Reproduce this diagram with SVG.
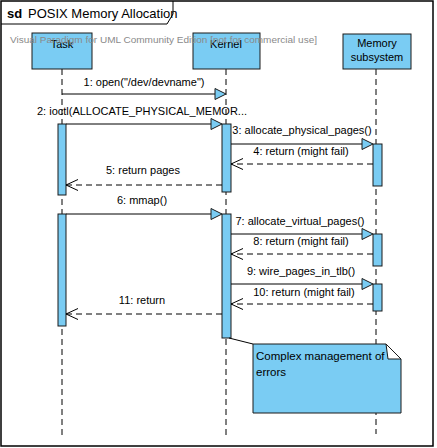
<svg xmlns="http://www.w3.org/2000/svg" width="437" height="448" viewBox="0 0 437 448">
<style>
text{font-family:"Liberation Sans",Arial,sans-serif;fill:#000}
.lbl{font-size:11px;text-anchor:middle}
.head{fill:#7ACCF3;stroke:#1a1a1a;stroke-width:1}
.act{fill:#7ACCF3;stroke:#1a1a1a;stroke-width:1}
.life{stroke:#000;stroke-width:1;stroke-dasharray:6 4;fill:none}
.msg{stroke:#000;stroke-width:1;fill:none}
.ret{stroke:#000;stroke-width:1;stroke-dasharray:6 4;fill:none}
.tri{fill:#7ACCF3;stroke:#1a1a1a;stroke-width:1}
.open{stroke:#000;stroke-width:1;fill:none}
</style>
<rect x="0" y="0" width="437" height="448" fill="#fff"/>
<g id="frame">
<rect x="1" y="1" width="432" height="445" fill="none" stroke="#000" stroke-width="1.5"/>
<path d="M1 24 H167 L173 14 V1" fill="none" stroke="#000" stroke-width="1"/>
<text x="7" y="18" style="font-size:13px;font-weight:bold">sd</text>
<text x="28" y="18" style="font-size:13px">POSIX Memory Allocation</text>
</g>
<g id="lifelines">
<line class="life" x1="62" y1="69" x2="62" y2="437"/>
<line class="life" x1="226" y1="69" x2="226" y2="437"/>
<line class="life" x1="376" y1="69" x2="376" y2="434"/>
</g>
<g id="task">
<rect class="head" x="32" y="33" width="60" height="36"/>
<text class="lbl" x="62" y="48">Task</text>
<rect class="act" x="58" y="124" width="8" height="71"/>
<rect class="act" x="58" y="214" width="8" height="112"/>
</g>
<g id="kernel">
<rect class="head" x="193" y="33" width="67" height="36"/>
<text class="lbl" x="226" y="48">Kernel</text>
<rect class="act" x="222" y="124" width="9" height="68"/>
<rect class="act" x="222" y="214" width="9" height="124"/>
</g>
<g id="memory">
<rect class="head" x="343" y="34" width="68" height="35"/>
<text class="lbl" x="377" y="47">Memory</text>
<text class="lbl" x="377" y="61">subsystem</text>
<rect class="act" x="373" y="144" width="9" height="42"/>
<rect class="act" x="373" y="234" width="9" height="32"/>
<rect class="act" x="373" y="284" width="9" height="27"/>
</g>
<text x="10" y="43" style="font-size:9.5px;fill:#8a8a8a" textLength="307" lengthAdjust="spacingAndGlyphs">Visual Paradigm for UML Community Edition [not for commercial use]</text>
<g id="note">
<line class="msg" x1="229" y1="338" x2="253" y2="344"/>
<path d="M253 344 H386 L401 359 V413 H253 Z" fill="#7ACCF3" stroke="#1a1a1a" stroke-width="1"/>
<path d="M386 344 L388 359 H401 Z" fill="#fff" stroke="#1a1a1a" stroke-width="1"/>
<text x="256" y="360" style="font-size:11.5px">Complex management of</text>
<text x="256" y="376" style="font-size:11.5px">errors</text>
</g>
<g id="connectors">
<line class="msg" x1="62" y1="94" x2="216" y2="94"/>
<path class="tri" d="M215 88.5 L226 94 L215 99.5 Z"/>
<text class="lbl" x="144" y="86">1: open("/dev/devname")</text>

<line class="msg" x1="66" y1="124" x2="212" y2="124"/>
<path class="tri" d="M211 118.5 L222 124 L211 129.5 Z"/>
<text class="lbl" x="142" y="115">2: ioctl(ALLOCATE_PHYSICAL_MEMOR...</text>

<line class="msg" x1="231" y1="144" x2="363" y2="144"/>
<path class="tri" d="M362 138.5 L373 144 L362 149.5 Z"/>
<text class="lbl" x="302" y="134">3: allocate_physical_pages()</text>

<line class="ret" x1="373" y1="164" x2="231" y2="164"/>
<path class="open" d="M243 158.5 L231 164 L243 169.5"/>
<text class="lbl" x="301" y="155">4: return (might fail)</text>

<line class="ret" x1="222" y1="185" x2="66" y2="185"/>
<path class="open" d="M78 179.5 L66 185 L78 190.5"/>
<text class="lbl" x="143" y="174">5: return pages</text>

<line class="msg" x1="66" y1="214" x2="212" y2="214"/>
<path class="tri" d="M211 208.5 L222 214 L211 219.5 Z"/>
<text class="lbl" x="142" y="204">6: mmap()</text>

<line class="msg" x1="231" y1="234" x2="363" y2="234"/>
<path class="tri" d="M362 228.5 L373 234 L362 239.5 Z"/>
<text class="lbl" x="300" y="225">7: allocate_virtual_pages()</text>

<line class="ret" x1="373" y1="254" x2="231" y2="254"/>
<path class="open" d="M243 248.5 L231 254 L243 259.5"/>
<text class="lbl" x="301" y="245">8: return (might fail)</text>

<line class="msg" x1="231" y1="284" x2="363" y2="284"/>
<path class="tri" d="M362 278.5 L373 284 L362 289.5 Z"/>
<text class="lbl" x="301" y="275">9: wire_pages_in_tlb()</text>

<line class="ret" x1="373" y1="304" x2="231" y2="304"/>
<path class="open" d="M243 298.5 L231 304 L243 309.5"/>
<text class="lbl" x="304" y="296">10: return (might fail)</text>

<line class="ret" x1="222" y1="314" x2="66" y2="314"/>
<path class="open" d="M78 308.5 L66 314 L78 319.5"/>
<text class="lbl" x="142" y="304">11: return</text>
</g>
</svg>
